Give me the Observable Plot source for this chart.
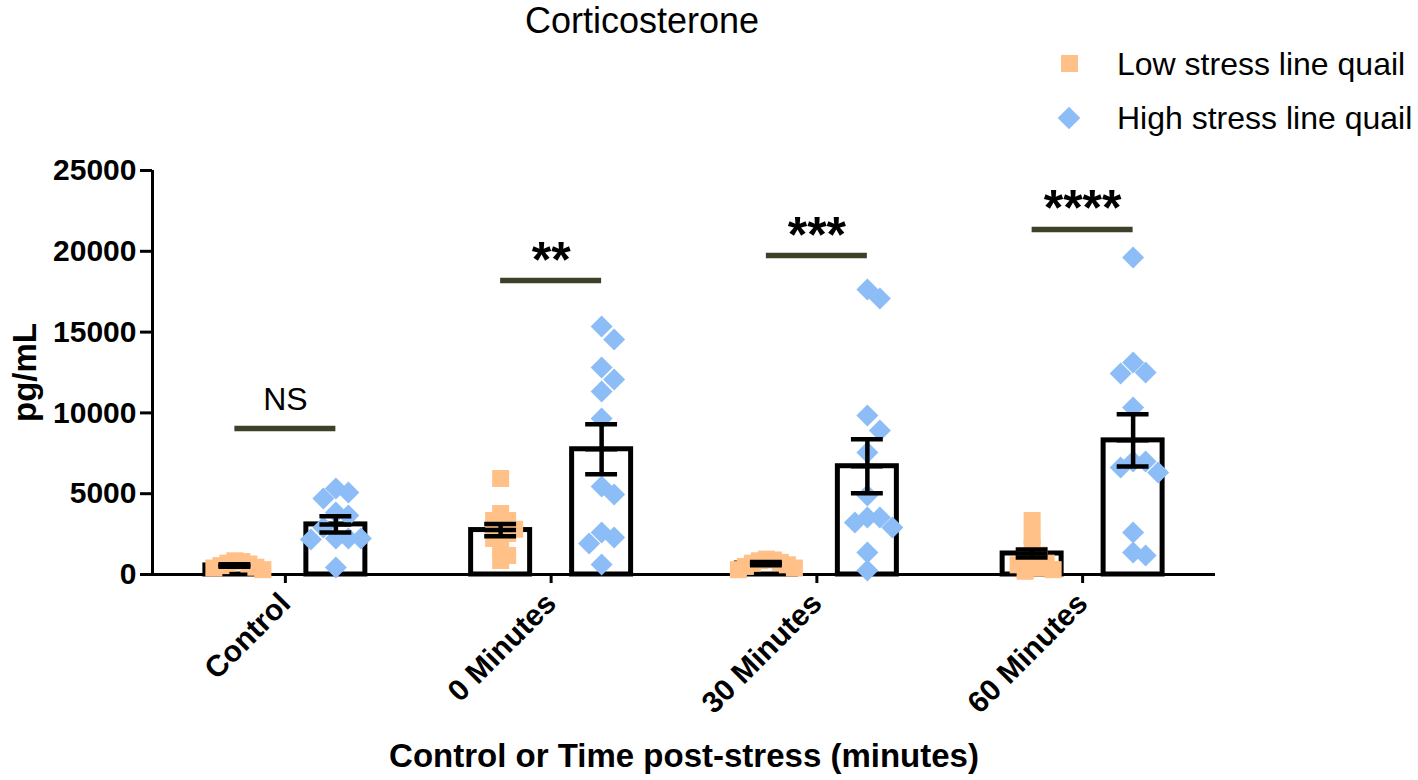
<!DOCTYPE html>
<html>
<head>
<meta charset="utf-8">
<script src="https://cdn.jsdelivr.net/npm/d3@7"></script>
<script src="https://cdn.jsdelivr.net/npm/@observablehq/plot@0.6"></script>
<style>
  body { margin: 0; background: #fff; font-family: "Liberation Sans", Arial, Helvetica, sans-serif; }
  #wrap { position: relative; width: 1418px; height: 780px; overflow: hidden; }
  #title { position: absolute; left: 525px; top: 0px; font-size: 36px; line-height: 42px; color: #000; white-space: nowrap; }
  .leg { position: absolute; left: 1117px; font-size: 32px; line-height: 36px; color: #000; white-space: nowrap; }
  .sw { position: absolute; }
  #chart { position: absolute; left: 0; top: 140px; }
</style>
</head>
<body>
<div id="wrap">
  <div id="title">Corticosterone</div>
  <div class="sw" style="left:1061px;top:55px;width:17px;height:17px;background:#FFC187;"></div>
  <div class="leg" style="top:46px;">Low stress line quail</div>
  <div class="sw" style="left:1061px;top:110px;width:16px;height:16px;background:#8DBDF6;transform:rotate(45deg);"></div>
  <div class="leg" style="top:100px;">High stress line quail</div>
  <div id="chart"></div>
</div>
<script>
// ---- data ----
const categories = ["Control", "0 Minutes", "30 Minutes", "60 Minutes"];
const lowValues = [
  [850, 800, 700, 650, 550, 450, 400, 300],
  [5940, 3775, 3340, 3340, 2908, 2800, 2537, 2228, 1670, 1175, 866],
  [950, 900, 850, 750, 700, 600, 500, 400, 300],
  [3340, 2413, 1670, 1200, 1000, 800, 700, 600, 400, 300, 200]
];
const highValues = [
  [5322, 5074, 4703, 3837, 3651, 2908, 2228, 2228, 2166, 2228, 433],
  [15347, 14540, 12810, 12067, 11324, 9653, 5445, 4950, 2600, 1920, 2290, 620],
  [17636, 17080, 9840, 8910, 7550, 4890, 3527, 3218, 3527, 2908, 1360, 250],
  [19616, 13119, 12438, 12500, 10334, 6993, 6993, 6312, 6621, 2600, 1175, 1360]
];
const lowMean = [560, 2750, 680, 1300];
const lowSEM = [80, 380, 100, 250];
const highMean = [3100, 7750, 6700, 8300];
const highSEM = [500, 1550, 1670, 1610];
const sigLevel = [9035, 18190, 19740, 21350];
const sigLabels = ["NS", "**", "***", "****"];
const yTicks = [0, 5000, 10000, 15000, 20000, 25000];
const seriesNames = ["Low stress line quail", "High stress line quail"];

// ---- layout ----
const W = 1418, H = 640;
const M = {top: 30, right: 203, bottom: 206, left: 152};
const innerW = W - M.left - M.right;
const innerH = H - M.top - M.bottom;
const yMax = 25000;
const unitPx = innerW / categories.length;
const valPx = innerH / yMax;
const groupOff = 0.19;
const barHalf = 0.111;
const capHalf = 0.06;
const LOW = "#FFC187", HIGH = "#8DBDF6";

// deterministic scatter layout (avoid overlaps within a column)
function swarm(values, stepPx, minDy) {
  const order = values.map((v, i) => i).sort((a, b) => values[b] - values[a]);
  const placed = [];
  const off = new Array(values.length).fill(0);
  for (const i of order) {
    const y = values[i] * valPx;
    for (let k = 0; k < 60; k++) {
      const m = k === 0 ? 0 : (k % 2 ? (k + 1) / 2 : -k / 2);
      const x = m * stepPx;
      if (!placed.some(p => Math.abs(p.x - x) < stepPx / 2 && Math.abs(p.y - y) < minDy)) {
        placed.push({x, y}); off[i] = x; break;
      }
    }
  }
  return off;
}

const lowPts = [], highPts = [];
categories.forEach((c, i) => {
  const lo = swarm(lowValues[i], 7, 12);
  lowValues[i].forEach((v, j) => lowPts.push({x: i - groupOff + lo[j] / unitPx, v}));
  const hi = swarm(highValues[i], 12.5, 16);
  highValues[i].forEach((v, j) => highPts.push({x: i + groupOff + hi[j] / unitPx, v}));
});

const bars = [];
categories.forEach((c, i) => {
  bars.push({x: i - groupOff, mean: lowMean[i], sem: lowSEM[i]});
  bars.push({x: i + groupOff, mean: highMean[i], sem: highSEM[i]});
});
const sig = categories.map((c, i) => ({i, level: sigLevel[i], label: sigLabels[i]}));

const chart = Plot.plot({
  width: W, height: H,
  marginTop: M.top, marginRight: M.right, marginBottom: M.bottom, marginLeft: M.left,
  style: {fontFamily: '"Liberation Sans", Arial, Helvetica, sans-serif', color: "#000", background: "#fff", overflow: "visible"},
  x: {domain: [-0.5, categories.length - 0.5]},
  y: {domain: [0, yMax]},
  marks: [
    Plot.axisY({ticks: yTicks, tickSize: 12, tickPadding: 4, tickFormat: d3.format("d"),
      fontSize: 30, fontWeight: "bold", strokeWidth: 3,
      label: "pg/mL", labelAnchor: "center", labelArrow: "none", labelOffset: 140}),
    Plot.axisX({ticks: d3.range(categories.length), tickFormat: i => categories[i], tickRotate: -45,
      tickSize: 9, tickPadding: 15, fontSize: 30, fontWeight: "bold", strokeWidth: 3,
      label: "Control or Time post-stress (minutes)", labelAnchor: "center", labelArrow: "none", labelOffset: 192}),
    Plot.ruleX([-0.5], {y1: 0, y2: yMax, strokeWidth: 3}),
    Plot.ruleY([0], {strokeWidth: 3}),
    Plot.rectY(bars, {x1: d => d.x - barHalf, x2: d => d.x + barHalf, y1: 0, y2: "mean",
      fill: "#fff", stroke: "#000", strokeWidth: 5}),
    Plot.dot(lowPts, {x: "x", y: "v", symbol: "square", r: 9.6, fill: LOW, stroke: "none"}),
    Plot.dot(highPts, {x: "x", y: "v", symbol: "diamond2", r: 9.9, fill: HIGH, stroke: "none"}),
    Plot.ruleX(bars, {x: "x", y1: d => d.mean - d.sem, y2: d => d.mean + d.sem, strokeWidth: 4.5}),
    Plot.ruleY(bars, {y: d => d.mean + d.sem, x1: d => d.x - capHalf, x2: d => d.x + capHalf, strokeWidth: 4.5}),
    Plot.ruleY(bars, {y: d => d.mean - d.sem, x1: d => d.x - capHalf, x2: d => d.x + capHalf, strokeWidth: 4.5}),
    Plot.ruleY(bars, {y: "mean", x1: d => d.x - capHalf, x2: d => d.x + capHalf, strokeWidth: 4.5}),
    Plot.ruleY(sig, {y: "level", x1: d => d.i - groupOff, x2: d => d.i + groupOff, stroke: "#3C4127", strokeWidth: 5.5}),
    Plot.text(sig.filter(d => d.label === "NS"), {x: "i", y: "level", text: "label", fontSize: 32, dy: -29, fill: "#000"}),
    Plot.text(sig.filter(d => d.label !== "NS"), {x: "i", y: "level", text: "label", fontSize: 50, fontWeight: "bold", dy: -20, fill: "#000"})
  ]
});
const yl = chart.querySelector('[aria-label="y-axis label"]');
if (yl) yl.setAttribute("font-size", 33);
const xl = chart.querySelector('[aria-label="x-axis label"]');
if (xl) xl.setAttribute("font-size", 33);
document.getElementById("chart").appendChild(chart);
</script>
</body>
</html>
